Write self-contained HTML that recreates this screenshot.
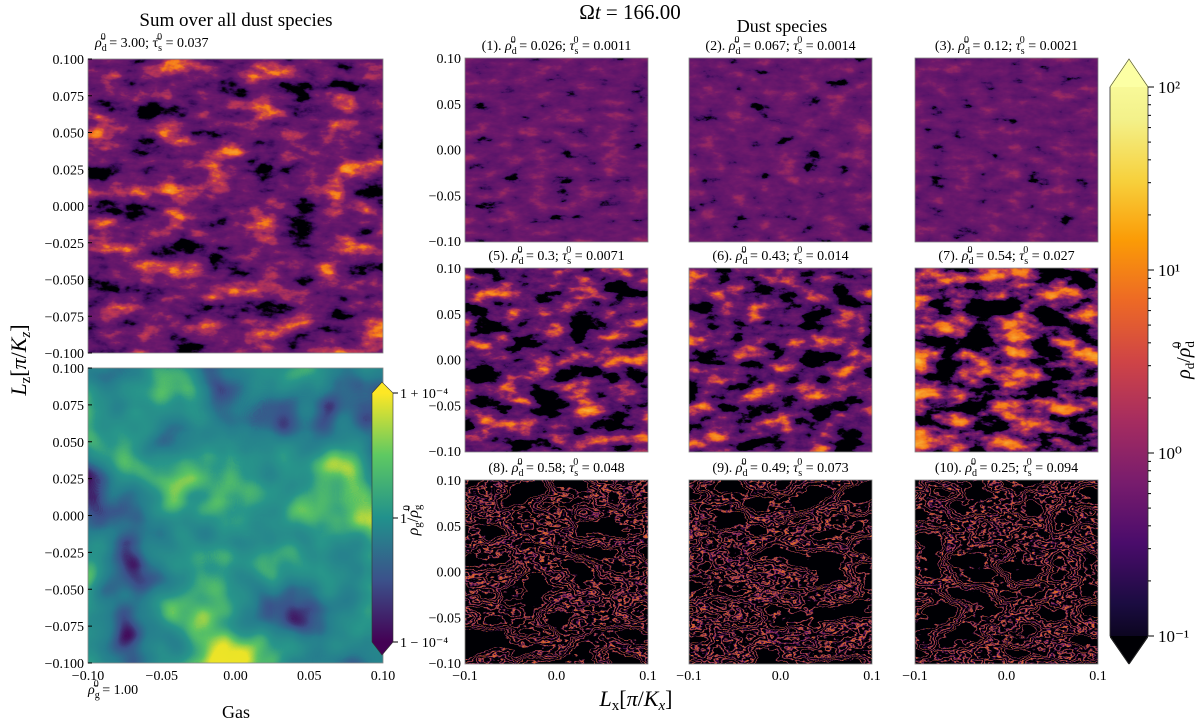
<!DOCTYPE html>
<html><head><meta charset="utf-8"><style>
body{margin:0;background:#fff}
svg{display:block;font-family:"Liberation Serif","DejaVu Serif",serif}
</style></head><body>
<svg id="fig" width="1200" height="724" viewBox="0 0 1200 724" xmlns="http://www.w3.org/2000/svg">
<defs id="defs">
<linearGradient id="infgrad" x1="0" y1="1" x2="0" y2="0">
<stop offset="0" stop-color="#000004"/><stop offset="0.1" stop-color="#1b0c41"/><stop offset="0.2" stop-color="#4a0c6b"/><stop offset="0.3" stop-color="#781c6d"/><stop offset="0.4" stop-color="#a52c60"/><stop offset="0.5" stop-color="#cf4446"/><stop offset="0.6" stop-color="#ed6925"/><stop offset="0.7" stop-color="#fb9b06"/><stop offset="0.8" stop-color="#f7d13d"/><stop offset="0.9" stop-color="#f3f18a"/><stop offset="1" stop-color="#fcffa4"/>
</linearGradient>
<linearGradient id="virgrad" x1="0" y1="1" x2="0" y2="0">
<stop offset="0" stop-color="#440154"/><stop offset="0.25" stop-color="#3b528b"/><stop offset="0.5" stop-color="#21918c"/><stop offset="0.75" stop-color="#5ec962"/><stop offset="1" stop-color="#fde725"/>
</linearGradient>
</defs>
<g id="panels"></g>
<g id="text" font-size="14" fill="#000">
<text x="630" y="19" font-size="21" text-anchor="middle">Ω<tspan font-style="italic">t</tspan> = 166.00</text>
<text x="782" y="32" font-size="18" text-anchor="middle">Dust species</text>
<text x="236" y="26" font-size="19" text-anchor="middle">Sum over all dust species</text>
<text x="95" y="47"><tspan font-style="italic">ρ̄</tspan><tspan font-size="10" dy="4">d</tspan><tspan font-size="10" dx="-6" dy="-11">0</tspan><tspan dy="7"> = 3.00; τ̄</tspan><tspan font-size="10" dy="4">s</tspan><tspan font-size="10" dx="-5" dy="-11">0</tspan><tspan dy="7"> = 0.037</tspan></text>
<text transform="translate(26,360) rotate(-90)" font-size="22" text-anchor="middle"><tspan font-style="italic">L</tspan><tspan font-size="15" dy="4">z</tspan><tspan dy="-4">[</tspan><tspan font-style="italic">π</tspan>/<tspan font-style="italic">K</tspan><tspan font-size="15" font-style="italic" dy="4">z</tspan><tspan dy="-4">]</tspan></text>
<text x="636" y="706" font-size="22" text-anchor="middle"><tspan font-style="italic">L</tspan><tspan font-size="15" dy="4">x</tspan><tspan dy="-4">[</tspan><tspan font-style="italic">π</tspan>/<tspan font-style="italic">K</tspan><tspan font-size="15" font-style="italic" dy="4">x</tspan><tspan dy="-4">]</tspan></text>
<text x="236" y="718" font-size="18" text-anchor="middle">Gas</text>
<text x="88" y="694"><tspan font-style="italic">ρ̄</tspan><tspan font-size="10" dy="4">g</tspan><tspan font-size="10" dx="-6" dy="-11">0</tspan><tspan dy="7"> = 1.00</tspan></text>
<text transform="translate(1190,360) rotate(-90)" font-size="20" text-anchor="middle"><tspan font-style="italic">ρ</tspan><tspan font-size="13" dy="4">d</tspan><tspan dy="-4">/</tspan><tspan font-style="italic">ρ̄</tspan><tspan font-size="13" dy="4">d</tspan><tspan font-size="13" dx="-7" dy="-13">0</tspan></text>
<text transform="translate(418,520) rotate(-90)" font-size="16" text-anchor="middle"><tspan font-style="italic">ρ</tspan><tspan font-size="11" dy="3">g</tspan><tspan dy="-3">/</tspan><tspan font-style="italic">ρ̄</tspan><tspan font-size="11" dy="3">g</tspan><tspan font-size="11" dx="-6" dy="-11">0</tspan></text>
</g>
</svg>
<script>
const NS='http://www.w3.org/2000/svg';
const svg=document.getElementById('fig'),defs=document.getElementById('defs'),pg=document.getElementById('panels'),tg=document.getElementById('text');
function el(tag,attrs,parent){const e=document.createElementNS(NS,tag);for(const k in attrs)e.setAttribute(k,attrs[k]);(parent||pg).appendChild(e);return e;}
const K=[0,0,4],P=[88,20,105],P2=[112,26,108],R=[190,55,85],O=[245,120,25],Y=[252,210,70];
function tables(stops){const n=201,out=[[],[],[]];for(let i=0;i<n;i++){const v=i/(n-1);let j=0;while(j<stops.length-2&&v>stops[j+1][0])j++;const a=stops[j],b=stops[j+1];const t=Math.max(0,Math.min(1,(v-a[0])/((b[0]-a[0])||1)));for(let c=0;c<3;c++)out[c].push(((a[1][c]+(b[1][c]-a[1][c])*t)/255).toFixed(3));}return out.map(a=>a.join(' '));}
let fid=0;
function panel(x,y,w,h,seed,freq,oct,stops,name){
  const id='f'+(fid++);
  const f=el('filter',{id:id,filterUnits:'userSpaceOnUse',x:x,y:y,width:w,height:h,'color-interpolation-filters':'sRGB'},defs);
  el('feTurbulence',{type:'fractalNoise',baseFrequency:freq,numOctaves:oct,seed:seed},f);
  el('feColorMatrix',{type:'matrix',values:'1 0 0 0 0 1 0 0 0 0 1 0 0 0 0 0 0 0 0 1'},f);
  const ct=el('feComponentTransfer',{},f);const tb=tables(stops);
  el('feFuncR',{type:'table',tableValues:tb[0]},ct);el('feFuncG',{type:'table',tableValues:tb[1]},ct);el('feFuncB',{type:'table',tableValues:tb[2]},ct);
  el('feFuncA',{type:'linear',slope:0,intercept:1},ct);
  const r=el('rect',{x:x,y:y,width:w,height:h,filter:'url(#'+id+')'});
  
  
  el('rect',{x:x,y:y,width:w,height:h,fill:'none',stroke:'#888','stroke-width':0.8});
}
function txt(x,y,s,anchor,name,size){const t=el('text',{x:x,y:y,'text-anchor':anchor,'font-size':size||14},tg);t.textContent=s;
  
  return t;}
const sTop=[[0,K],[0.27,K],[0.33,[60,10,90]],[0.4,P],[0.55,P2],[0.63,[160,45,95]],[0.7,R],[0.78,O],[1,Y]];
const sA=[[0,K],[0.2,K],[0.26,[60,12,90]],[0.32,P],[0.62,P2],[0.75,[140,36,102]],[1,R]];
const sB=[[0,K],[0.36,K],[0.41,[70,14,100]],[0.48,P],[0.58,P2],[0.67,R],[0.76,O],[1,Y]];
const sB2=[[0,K],[0.4,K],[0.45,[75,15,102]],[0.52,P2],[0.62,R],[0.7,O],[1,Y]];
function band(c,w){return [[c-w*2,K],[c-w,[100,22,108]],[c,O],[c+w,[100,22,108]],[c+w*2,K]];}
const sC=[[0,K]].concat(band(0.36,0.008),band(0.44,0.008),band(0.5,0.01),band(0.56,0.008),band(0.63,0.008),[[1,K]]);
const sG=[[0,[68,1,84]],[0.22,[68,1,84]],[0.3,[59,82,139]],[0.4,[38,125,142]],[0.55,[40,150,138]],[0.65,[90,195,100]],[0.74,[235,228,40]],[1,[253,231,37]]];
panel(88,59,295,294,3,'0.025 0.05',5,sTop,'sum-dust-map');
panel(88,368,295,295,7,0.011,3,sG,'gas-density-map');
const cols=[465,689,915],rows=[58,268,480],W=183;
const specs=[[1,sA,'(1). ','0.026','0.0011'],[2,sA,'(2). ','0.067','0.0014'],[3,sA,'(3). ','0.12','0.0021'],
[5,sB,'(5). ','0.3','0.0071'],[6,sB,'(6). ','0.43','0.014'],[7,sB2,'(7). ','0.54','0.027'],
[8,sC,'(8). ','0.58','0.048'],[9,sC,'(9). ','0.49','0.073'],[10,sC,'(10). ','0.25','0.094']];
specs.forEach((s,i)=>{const c=i%3,r=Math.floor(i/3);const x=cols[c],y=rows[r];
  panel(x,y,W,W+1,s[0]*11,r==0?'0.04 0.08':(r==1?'0.03 0.06':'0.02 0.035'),5,s[1],'dust-species-'+s[0]+'-map');
  const t=el('text',{x:x+W/2,y:y-8,'text-anchor':'middle','font-size':14},tg);
  
  
  t.innerHTML=s[2]+'<tspan font-style="italic">ρ̄</tspan><tspan font-size="10" dy="4">d</tspan><tspan font-size="10" dx="-6" dy="-11">0</tspan><tspan dy="7"> = '+s[3]+'; <tspan font-style="italic">τ</tspan></tspan><tspan font-size="10" dy="4">s</tspan><tspan font-size="10" dx="-5" dy="-11">0</tspan><tspan dy="7"> = '+s[4]+'</tspan>';
});
const bigTicks=['0.100','0.075','0.050','0.025','0.000','−0.025','−0.050','−0.075','−0.100'];
bigTicks.forEach((s,i)=>{const y1=59+i*294/8;txt(84,y1+5,s,'end','sum-y-tick');el('line',{x1:88,x2:92,y1:y1,y2:y1,stroke:'#000'});
  const y2=368+i*295/8;txt(84,y2+5,s,'end','gas-y-tick');el('line',{x1:88,x2:92,y1:y2,y2:y2,stroke:'#000'});});
const gx=['−0.10','−0.05','0.00','0.05','0.10'];
gx.forEach((s,i)=>{const x=88+i*295/4;txt(x,680,s,'middle','gas-x-tick');});
const smY=['0.10','0.05','0.00','−0.05','−0.10'];
rows.forEach(r=>smY.forEach((s,i)=>txt(461,r+i*W/4+5,s,'end','dust-y-tick')));
const smX=['−0.1','0.0','0.1'];
cols.forEach(c=>smX.forEach((s,i)=>txt(c+i*W/2,680,s,'middle','dust-x-tick')));
const cb=el('path',{d:'M1110 87 L1129 59 L1148 87 L1148 636 L1129 664 L1110 636 Z',fill:'url(#infgrad)',stroke:'#333','stroke-width':0.6});


el('rect',{x:1110,y:59,width:38,height:28,fill:'#fcffa4'});el('rect',{x:1110,y:636,width:38,height:28,fill:'#000004'});
el('path',{d:'M1109 58 L1109 87 L1129 58 Z M1149 58 L1149 87 L1129 58 Z M1109 665 L1109 636 L1129 665 Z M1149 665 L1149 636 L1129 665 Z',fill:'#fff'});
el('path',{d:'M1110 87 L1129 59 L1148 87 L1148 636 L1129 664 L1110 636 Z',fill:'none',stroke:'#333','stroke-width':0.6});
const dec=['10²','10¹','10⁰','10⁻¹'];
dec.forEach((s,i)=>{const y=87+i*183;el('line',{x1:1148,x2:1154,y1:y,y2:y,stroke:'#000'});txt(1158,y+6,s,'start','dust-colorbar-tick',17);
  if(i<3)for(let m=2;m<10;m++){const yy=y+183-183*Math.log10(m);el('line',{x1:1148,x2:1151,y1:yy,y2:yy,stroke:'#000'});}});
el('rect',{x:372,y:393,width:21,height:249,fill:'url(#virgrad)'});
el('path',{d:'M372 393 L382 382 L393 393 Z',fill:'#fde725'});el('path',{d:'M372 642 L382 655 L393 642 Z',fill:'#440154'});
const gcb=el('path',{d:'M372 393 L382 382 L393 393 L393 642 L382 655 L372 642 Z',fill:'none',stroke:'#333','stroke-width':0.6});


[[393,'1 + 10⁻⁴'],[518,'1'],[642,'1 − 10⁻⁴']].forEach(a=>{el('line',{x1:393,x2:398,y1:a[0],y2:a[0],stroke:'#000'});txt(400,a[0]+5,a[1],'start','gas-colorbar-tick',14);});
</script>
</body></html>
